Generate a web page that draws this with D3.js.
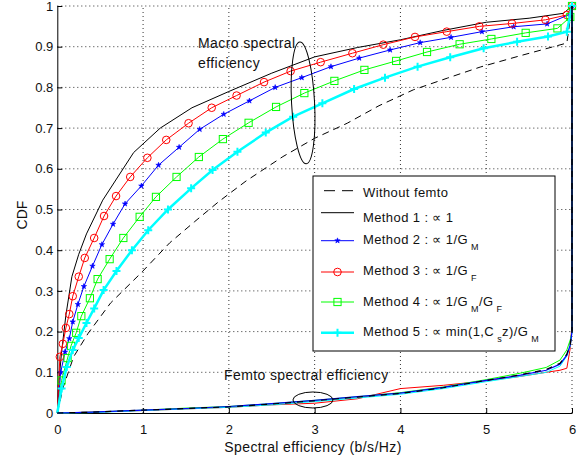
<!DOCTYPE html>
<html>
<head>
<meta charset="utf-8">
<script src="https://cdn.jsdelivr.net/npm/d3@7"></script>
<style>
body { margin: 0; background: #fff; }
text { font-family: "Liberation Sans", Arial, sans-serif; fill: #111; }
</style>
</head>
<body>
<div id="chart"></div>
<script>
// macro spectral efficiency CDFs
const woX = [0, 0.07, 0.19, 0.36, 0.62, 0.99, 1.31, 1.6, 1.88, 2.2, 2.63, 3.0, 3.38, 3.75, 4.15, 4.55, 4.93, 5.4, 5.94, 6.0];
const woY = [0, 0.064, 0.138, 0.196, 0.27, 0.347, 0.418, 0.47, 0.519, 0.57, 0.63, 0.675, 0.712, 0.755, 0.794, 0.823, 0.85, 0.878, 0.909, 1.0];

const m1X = [0, 0.02, 0.05, 0.1, 0.17, 0.25, 0.34, 0.53, 0.89, 1.2, 1.57, 2.0, 2.5, 3.0, 3.5, 4.0, 4.5, 5.0, 5.5, 5.9, 6.0];
const m1Y = [0, 0.08, 0.15, 0.24, 0.335, 0.39, 0.44, 0.523, 0.64, 0.70, 0.75, 0.79, 0.835, 0.875, 0.898, 0.917, 0.94, 0.96, 0.97, 0.982, 1.0];

const m2X = [0, 0.04, 0.09, 0.14, 0.18, 0.24, 0.31, 0.41, 0.52, 0.65, 0.79, 0.98, 1.18, 1.42, 1.66, 1.94, 2.24, 2.54, 2.85, 3.19, 3.52, 3.88, 4.23, 4.59, 4.95, 5.32, 5.71, 5.98, 6.0];
const m2Y = [0, 0.1, 0.15, 0.183, 0.224, 0.267, 0.311, 0.361, 0.414, 0.464, 0.514, 0.558, 0.609, 0.653, 0.697, 0.734, 0.767, 0.8, 0.824, 0.851, 0.872, 0.892, 0.91, 0.923, 0.937, 0.949, 0.956, 0.98, 1.0];

const m3X = [0, 0.03, 0.065, 0.1, 0.14, 0.18, 0.25, 0.32, 0.43, 0.545, 0.685, 0.85, 1.05, 1.27, 1.53, 1.80, 2.09, 2.41, 2.72, 3.07, 3.44, 3.8, 4.17, 4.54, 4.92, 5.3, 5.69, 5.94, 6.0];
const m3Y = [0, 0.138, 0.17, 0.209, 0.243, 0.287, 0.335, 0.381, 0.43, 0.484, 0.533, 0.58, 0.627, 0.671, 0.712, 0.75, 0.78, 0.813, 0.84, 0.862, 0.884, 0.905, 0.924, 0.937, 0.95, 0.957, 0.966, 0.978, 1.0];

const m4X = [0, 0.05, 0.12, 0.16, 0.22, 0.28, 0.38, 0.47, 0.61, 0.77, 0.96, 1.15, 1.39, 1.65, 1.93, 2.23, 2.55, 2.88, 3.23, 3.58, 3.95, 4.31, 4.69, 5.06, 5.46, 5.83, 5.98, 6.0];
const m4Y = [0, 0.08, 0.135, 0.165, 0.197, 0.238, 0.282, 0.329, 0.378, 0.43, 0.482, 0.531, 0.58, 0.629, 0.673, 0.713, 0.752, 0.786, 0.816, 0.843, 0.865, 0.887, 0.906, 0.919, 0.934, 0.945, 0.973, 1.0];

const m5X = [0, 0.05, 0.11, 0.18, 0.25, 0.34, 0.43, 0.54, 0.69, 0.87, 1.06, 1.29, 1.56, 1.81, 2.1, 2.43, 2.75, 3.09, 3.46, 3.82, 4.2, 4.58, 4.97, 5.36, 5.72, 5.94, 6.0];
const m5Y = [0, 0.06, 0.113, 0.155, 0.184, 0.221, 0.257, 0.302, 0.349, 0.4, 0.449, 0.5, 0.552, 0.597, 0.642, 0.689, 0.728, 0.761, 0.796, 0.824, 0.851, 0.874, 0.896, 0.912, 0.925, 0.937, 1.0];

// femto spectral efficiency CDFs
const femtoX = [0, 0.4, 1, 1.5, 2, 2.5, 3, 3.5, 4, 4.5, 5, 5.4, 5.7, 5.86, 5.94, 5.98, 6.0, 6.0];
const f1Y = [0, 0.002, 0.007, 0.011, 0.015, 0.022, 0.03, 0.039, 0.048, 0.062, 0.08, 0.094, 0.107, 0.122, 0.145, 0.17, 0.2, 1];
const f2Y = [0, 0.002, 0.007, 0.011, 0.016, 0.023, 0.031, 0.04, 0.049, 0.063, 0.08, 0.093, 0.105, 0.12, 0.142, 0.168, 0.2, 1];
const f3Y = [0, 0.002, 0.006, 0.01, 0.014, 0.02, 0.024, 0.035, 0.06, 0.068, 0.079, 0.09, 0.1, 0.105, 0.11, 0.16, 0.22, 1];
const f4Y = [0, 0.002, 0.007, 0.012, 0.016, 0.023, 0.031, 0.04, 0.05, 0.064, 0.082, 0.098, 0.112, 0.13, 0.155, 0.18, 0.2, 1];
const f5Y = [0, 0.001, 0.006, 0.01, 0.014, 0.02, 0.028, 0.037, 0.046, 0.06, 0.077, 0.09, 0.1, 0.115, 0.14, 0.165, 0.2, 1];

const xTicks = [0, 1, 2, 3, 4, 5, 6];
const yTicks = [0, 0.1, 0.2, 0.3, 0.4, 0.5, 0.6, 0.7, 0.8, 0.9, 1];

const svg = d3.select("#chart")
    .append("svg")
    .attr("width", 587)
    .attr("height", 464);

const x = d3.scaleLinear().domain([0, 6]).range([57.3, 572]);
const y = d3.scaleLinear().domain([0, 1]).range([413, 6]);

// grid
const grid = svg.append("g")
    .attr("stroke", "#333")
    .attr("stroke-width", 1)
    .attr("stroke-dasharray", "1,3");
xTicks.slice(1).forEach(t => {
    grid.append("line")
        .attr("x1", x(t)).attr("x2", x(t))
        .attr("y1", y(0)).attr("y2", y(1));
});
yTicks.slice(1).forEach(t => {
    grid.append("line")
        .attr("x1", x(0)).attr("x2", x(6))
        .attr("y1", y(t)).attr("y2", y(t));
});

// axes
const xAxis = svg.append("g")
    .attr("transform", "translate(0," + y(0) + ")")
    .call(d3.axisBottom(x).tickValues(xTicks).tickFormat(d3.format("~g"))
        .tickSize(-5).tickSizeOuter(0).tickPadding(12));
const yAxis = svg.append("g")
    .attr("transform", "translate(" + x(0) + ",0)")
    .call(d3.axisLeft(y).tickValues(yTicks).tickFormat(d3.format("~g"))
        .tickSize(-5).tickSizeOuter(0).tickPadding(4));
[xAxis, yAxis].forEach(a => {
    a.selectAll("text").attr("font-size", 13).attr("font-family", "Liberation Sans, Arial, sans-serif").attr("fill", "#111");
    a.selectAll("line").attr("stroke", "#000");
    a.select(".domain").attr("stroke", "#000");
});

const line = d3.line().x(d => x(d[0])).y(d => y(d[1]));
const pts = (xs, ys) => xs.map((v, i) => [v, ys[i]]);

// markers
function marker(g, kind, color) {
    if (kind === "circle") {
        g.append("circle").attr("r", 3.8).attr("fill", "none").attr("stroke", color).attr("stroke-width", 1);
    } else if (kind === "star") {
        g.append("path").attr("d", d3.symbol(d3.symbolStar, 9)()).attr("fill", color).attr("stroke", color).attr("stroke-width", 0.6);
    } else if (kind === "square") {
        g.append("rect").attr("x", -3.6).attr("y", -3.6).attr("width", 7.2).attr("height", 7.2)
            .attr("fill", "none").attr("stroke", color).attr("stroke-width", 1);
    } else if (kind === "plus") {
        g.append("path").attr("d", "M-4,0H4M0,-4V4").attr("stroke", color).attr("stroke-width", 2);
    }
}

const macro = [
    { xs: woX, ys: woY, color: "#000", width: 1, dash: "7,5", mk: null },
    { xs: m1X, ys: m1Y, color: "#000", width: 1, dash: null, mk: null },
    { xs: m2X, ys: m2Y, color: "#0000ff", width: 1, dash: null, mk: "star" },
    { xs: m3X, ys: m3Y, color: "#ff0000", width: 1, dash: null, mk: "circle" },
    { xs: m4X, ys: m4Y, color: "#00ff00", width: 1, dash: null, mk: "square" },
    { xs: m5X, ys: m5Y, color: "#00ffff", width: 2.5, dash: null, mk: "plus" }
];

const femto = [
    { ys: f3Y, color: "#ff0000", width: 1 },
    { ys: f4Y, color: "#00ff00", width: 1 },
    { ys: f5Y, color: "#00ffff", width: 1 },
    { ys: f2Y, color: "#0000ff", width: 1.2 },
    { ys: f1Y, color: "#000", width: 1.2, dash: "6,6" }
];

macro.forEach(s => {
    svg.append("path")
        .datum(pts(s.xs, s.ys))
        .attr("d", line)
        .attr("fill", "none")
        .attr("stroke", s.color)
        .attr("stroke-width", s.width)
        .attr("stroke-dasharray", s.dash);
    if (s.mk) {
        pts(s.xs, s.ys).slice(1).forEach(p => {
            const g = svg.append("g").attr("transform", "translate(" + x(p[0]) + "," + y(p[1]) + ")");
            marker(g, s.mk, s.color);
        });
    }
});

femto.forEach(s => {
    svg.append("path")
        .datum(pts(femtoX, s.ys))
        .attr("d", line)
        .attr("fill", "none")
        .attr("stroke", s.color)
        .attr("stroke-width", s.width)
        .attr("stroke-dasharray", s.dash || null);
});
// the final jump of the femto CDF at x = 6 shows as a solid black line
svg.append("path")
    .datum(pts(femtoX, f1Y).slice(-2))
    .attr("d", line)
    .attr("fill", "none")
    .attr("stroke", "#000")
    .attr("stroke-width", 1.3);

// annotations
svg.append("ellipse")
    .attr("transform", "translate(" + x(2.865) + "," + y(0.762) + ") rotate(-3)")
    .attr("rx", 11.5).attr("ry", 61)
    .attr("fill", "none").attr("stroke", "#000");
svg.append("ellipse")
    .attr("cx", x(2.98)).attr("cy", y(0.032))
    .attr("rx", 20).attr("ry", 8)
    .attr("fill", "none").attr("stroke", "#000");

const ann = svg.append("g").attr("font-size", 14).attr("letter-spacing", "0.4px");
ann.append("text").attr("x", 198).attr("y", 48).text("Macro spectral");
ann.append("text").attr("x", 198).attr("y", 68).text("efficiency");
ann.append("text").attr("x", 224).attr("y", 379.5).text("Femto spectral efficiency");

svg.append("text")
    .attr("x", 313).attr("y", 452)
    .attr("text-anchor", "middle")
    .attr("font-size", 14).attr("letter-spacing", "0.4px")
    .text("Spectral efficiency (b/s/Hz)");
svg.append("text")
    .attr("transform", "translate(26.5,215) rotate(-90)")
    .attr("text-anchor", "middle")
    .attr("font-size", 14)
    .text("CDF");

// legend
const legend = svg.append("g");
legend.append("rect")
    .attr("x", 313).attr("y", 176).attr("width", 242).attr("height", 175)
    .attr("fill", "#fff").attr("stroke", "#000").attr("stroke-width", 1);

const legendRows = [
    { s: macro[0], ly: 190.7, ty: 197, parts: [["Without femto"]] },
    { s: macro[1], ly: 212.7, ty: 222, parts: [["Method 1 : \u221D 1"]] },
    { s: macro[2], ly: 240.7, ty: 244, parts: [["Method 2 : \u221D 1/G"], ["M", 1]] },
    { s: macro[3], ly: 272, ty: 275, parts: [["Method 3 : \u221D 1/G"], ["F", 1]] },
    { s: macro[4], ly: 302, ty: 306, parts: [["Method 4 : \u221D 1/G"], ["M", 1], ["/G"], ["F", 1]] },
    { s: macro[5], ly: 332.7, ty: 336, parts: [["Method 5 : \u221D min(1,C"], ["s", 1], ["z)/G"], ["M", 1]] }
];

legendRows.forEach(r => {
    legend.append("line")
        .attr("x1", 321).attr("x2", 354)
        .attr("y1", r.ly).attr("y2", r.ly)
        .attr("stroke", r.s.color)
        .attr("stroke-width", r.s.width)
        .attr("stroke-dasharray", r.s.dash ? "11,7" : null)
        .attr("stroke-dashoffset", r.s.dash ? -3 : null);
    if (r.s.mk) {
        marker(legend.append("g").attr("transform", "translate(337.5," + r.ly + ")"), r.s.mk, r.s.color);
    }
    const t = legend.append("text")
        .attr("x", 363).attr("y", r.ty)
        .attr("font-size", 13).attr("letter-spacing", "0.4px");
    let sub = false;
    r.parts.forEach(p => {
        const ts = t.append("tspan").text(p[0]);
        if (p[1]) {
            ts.attr("font-size", 9).attr("dy", 6).attr("dx", 3);
            sub = true;
        } else if (sub) {
            ts.attr("dy", -6);
            sub = false;
        }
    });
});
</script>
</body>
</html>
